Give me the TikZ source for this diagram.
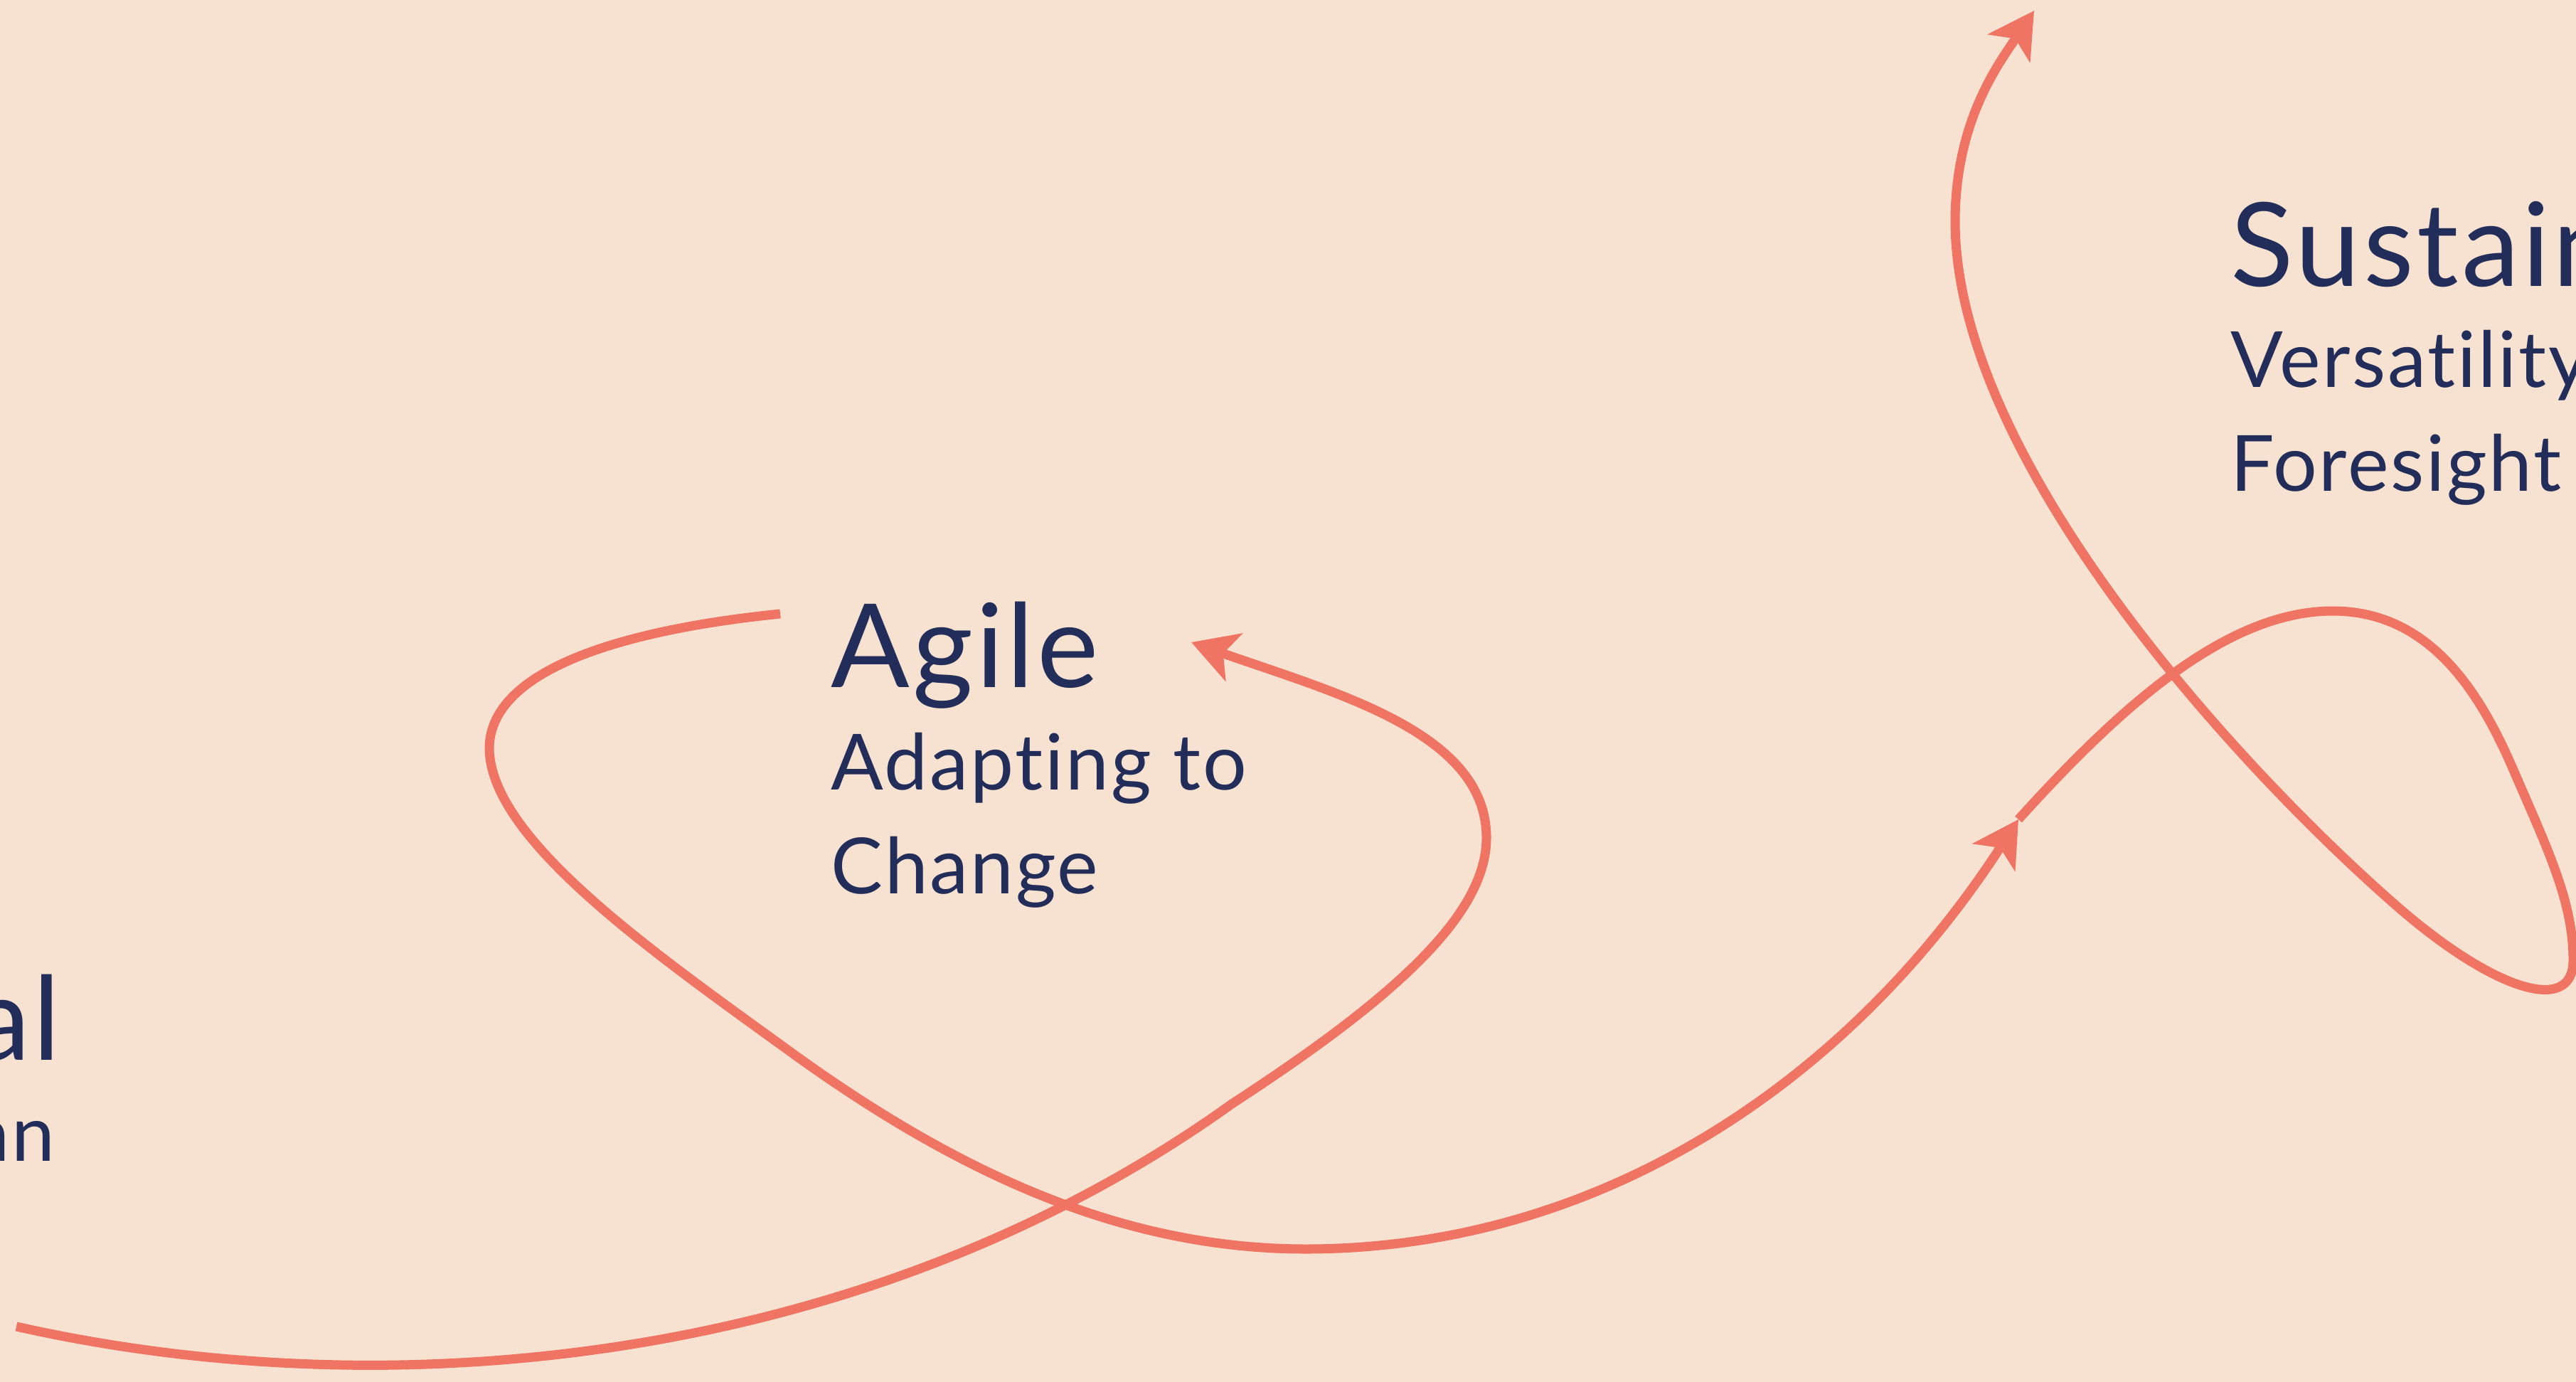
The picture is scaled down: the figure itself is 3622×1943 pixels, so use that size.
\documentclass[tikz,border=0pt]{standalone}
\usepackage{fontspec}
\setmainfont{Lato}[RawFeature=-liga, LetterSpace=2.5]
\usetikzlibrary{arrows.meta}
\definecolor{bgc}{HTML}{F7E2D2}
\definecolor{coral}{HTML}{F07463}
\definecolor{navy}{HTML}{222D5A}
\tikzset{
  curve/.style={draw=coral, line width=3.7pt, line cap=butt, line join=round},
  tipped/.style={curve, -{Stealth[length=18pt, width=20pt, inset=4.5pt]}},
  ttl/.style={text=navy, inner sep=0pt, anchor=base west, font=\fontsize{46.5}{55}\selectfont},
  ttlr/.style={ttl, anchor=base east},
  sub/.style={text=navy, inner sep=0pt, anchor=base west, font=\fontsize{31}{40}\selectfont},
  subr/.style={sub, anchor=base east},
}
\begin{document}
\begin{tikzpicture}[x=0.01cm, y=-0.01cm]
\fill[bgc] (0,0) rectangle (3622,1943);
\useasboundingbox (0,0) rectangle (3622,1943);

% coordinates
\coordinate (a0) at (23,1865);
\coordinate (a1) at (1732,1552);
\coordinate (a2) at (2090,1178);
\coordinate (a3) at (1675,903);
\coordinate (b0) at (1097,863);
\coordinate (b1) at (688,1051);
\coordinate (b2) at (1120,1485);
\coordinate (b3) at (1836,1756);
\coordinate (b4) at (2838,1152);
\coordinate (c1) at (3280,859);
\coordinate (c2) at (3535,1085);
\coordinate (c3) at (3618,1350);
\coordinate (c4) at (3361,1266);
\coordinate (c5) at (2749,312);
\coordinate (c6) at (2860,15);

% curve A
\draw[tipped] (a0) .. controls (580,1990) and (1240,1905) .. (a1)
  .. controls (1950,1410) and (2090,1290) .. (a2)
  .. controls (2090,1030) and (1880,975) .. (a3);

% curve B
\draw[tipped] (b0) .. controls (880,885) and (690,940) .. (b1)
  .. controls (688,1180) and (920,1340) .. (b2)
  .. controls (1350,1650) and (1580,1756) .. (b3)
  .. controls (2250,1756) and (2600,1520) .. (b4);

% curve C
\draw[tipped] (b4) .. controls (2980,995) and (3130,859) .. (c1)
  .. controls (3420,859) and (3490,980) .. (c2)
  .. controls (3585,1200) and (3618,1270) .. (c3)
  .. controls (3618,1430) and (3500,1390) .. (c4)
  .. controls (3150,1080) and (2750,650) .. (c5)
  .. controls (2749,170) and (2810,90) .. (c6);

% texts
\node[ttl] (agile) at (1168,966) {Agile};
\node[sub] (agile1) at (1168,1110) {Adapting to};
\node[sub] (agile2) at (1168,1256) {Change};

\node[ttl] (sust) at (3136,403) {Sustain};
\node[sub] (sust1) at (3136,545) {Versatility};
\node[sub] (sust2) at (3136,690) {Foresight};

\node[ttlr] (left1) at (86,1490) {al};
\node[subr] (left2) at (78,1632) {an};
\end{tikzpicture}
\end{document}
